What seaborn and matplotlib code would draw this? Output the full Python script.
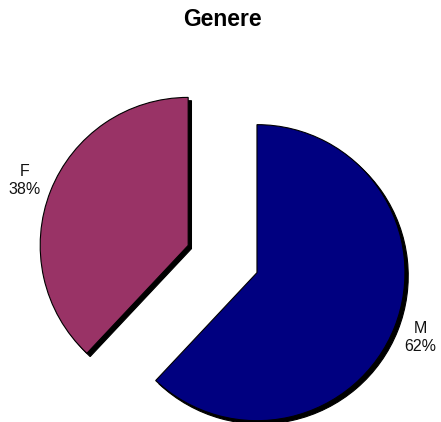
import matplotlib
matplotlib.use("Agg")
import matplotlib.pyplot as plt
import seaborn as sns

categories = ["M", "F"]
values = [62, 38]
colors = ["#000080", "#993366"]
title = "Genere"

sns.set_theme(style="white")
plt.rcParams["font.family"] = ["Liberation Sans", "DejaVu Sans"]

fig = plt.figure(figsize=(4.41, 4.22), dpi=100)
ax = fig.add_axes([0, 0, 1, 1])

total = sum(values)
labels = [f"{c}\n{round(v * 100 / total)}%" for c, v in zip(categories, values)]

wedges, texts = ax.pie(
    values,
    labels=labels,
    colors=colors,
    startangle=90,
    counterclock=False,
    explode=[0.25, 0.25],
    labeldistance=1.19,
    shadow={"ox": 0.016, "oy": -0.016, "shade": 1.0, "alpha": 1.0},
    wedgeprops={"edgecolor": "black", "linewidth": 0.8},
    textprops={"fontsize": 11.5, "color": "#111111"},
    frame=False,
)
for t in texts:
    t.set_horizontalalignment("center")
    t.set_multialignment("center")

ax.set_aspect("auto")
ax.set_xlim(-1.504, 1.476)
ax.set_ylim(-1.101, 1.750)
ax.axis("off")

fig.text(0.504, 1 - 20 / 422, title, ha="center", va="center",
         fontsize=16.5, fontweight="bold", color="black")

fig.savefig("out.png", dpi=100, facecolor="white")
